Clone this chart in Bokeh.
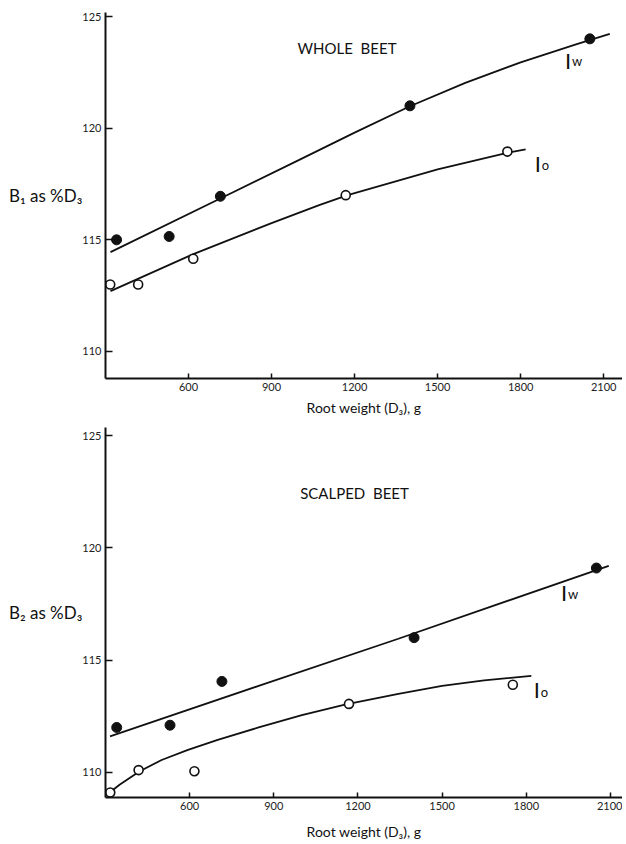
from bokeh.plotting import figure
from bokeh.layouts import column
from bokeh.models import FixedTicker, Range1d
from bokeh.core.properties import value
from bokeh.embed import file_html
from bokeh.resources import INLINE

# ---- data ----
x_ticks = [600, 900, 1200, 1500, 1800, 2100]
y_ticks = [110, 115, 120, 125]

w_x = [340, 530, 715, 1400, 2050]          # filled (Iw) root weights
o_x = [317, 418, 617, 1168, 1752]          # open (Io) root weights

whole_w = [115.0, 115.15, 116.95, 121.0, 124.0]
whole_o = [113.0, 113.0, 114.15, 117.0, 118.95]
scalp_w = [112.0, 112.1, 114.05, 116.0, 119.1]
scalp_o = [109.1, 110.1, 110.05, 113.05, 113.9]

whole_fit_w_x = [318, 713, 1000, 1200, 1400, 1600, 1800, 2000, 2122]
whole_fit_w_y = [114.45, 116.84, 118.58, 119.8, 120.98, 122.03, 122.95, 123.75, 124.22]
whole_fit_o_x = [318, 615, 900, 1072, 1175, 1500, 1755, 1818]
whole_fit_o_y = [112.7, 114.35, 115.75, 116.55, 117.0, 118.15, 118.9, 119.05]
scalp_fit_w_x = [316, 846, 1344, 2094]
scalp_fit_w_y = [111.6, 113.85, 115.95, 119.2]
scalp_fit_o_x = [305, 350, 422, 500, 594, 700, 846, 1000, 1157, 1344, 1500, 1650, 1818]
scalp_fit_o_y = [109.0, 109.45, 110.05, 110.55, 111.0, 111.45, 112.0, 112.55, 113.03, 113.5, 113.85, 114.1, 114.3]

FONT = "Lato"


def panel(height, top_border, left_border, xr, yr, xlab_standoff, title, title_pos, ylabel, wy, oy,
          fwx, fwy, fox, foy, lab_w, lab_o):
    p = figure(width=622, height=height, x_range=Range1d(*xr), y_range=Range1d(*yr),
               output_backend="svg", toolbar_location=None,
               min_border_left=left_border, min_border_right=0, min_border_top=top_border,
               min_border_bottom=0)
    p.outline_line_color = None
    p.grid.visible = False
    p.background_fill_color = "white"
    p.border_fill_color = "white"
    p.xaxis.ticker = FixedTicker(ticks=x_ticks)
    p.yaxis.ticker = FixedTicker(ticks=y_ticks)
    for ax in (p.xaxis, p.yaxis):
        ax.axis_line_width = 2
        ax.axis_line_color = "#111"
        ax.major_tick_line_width = 1.5
        ax.major_tick_line_color = "#111"
        ax.major_tick_out = 0
        ax.minor_tick_line_color = None
        ax.major_label_text_font = FONT
        ax.major_label_text_font_size = "11px"
        ax.major_label_text_color = "#222"
        ax.axis_label_text_font = FONT
        ax.axis_label_text_font_style = "normal"
        ax.axis_label_text_color = "#111"
    p.xaxis.major_tick_in = 5
    p.yaxis.major_tick_in = 7
    p.xaxis.major_label_standoff = 4
    p.yaxis.major_label_standoff = 4
    p.xaxis.axis_label = "Root weight (D\u2083), g"
    p.xaxis.axis_label_text_font_size = "14px"
    p.xaxis.axis_label_standoff = xlab_standoff
    p.yaxis.axis_label = ylabel
    p.yaxis.axis_label_orientation = "horizontal"
    p.yaxis.axis_label_text_font_size = "17px"
    p.yaxis.axis_label_standoff = -3

    p.line(fwx, fwy, line_color="#111", line_width=1.8)
    p.line(fox, foy, line_color="#111", line_width=1.8)
    p.scatter(w_x, wy, size=10, marker="circle", fill_color="#111", line_color="#111")
    p.scatter(o_x, oy, size=9, marker="circle", fill_color="white", line_color="#111", line_width=1.6)

    p.text(x=[title_pos[0]], y=[title_pos[1]], text=[title], text_font=value(FONT),
           text_font_size=value("15px"), text_baseline="middle", text_align="left", text_color="#111")
    # I_w and I_o labels
    p.text(x=[lab_w[0], lab_o[0]], y=[lab_w[1], lab_o[1]], text=["I", "I"], text_font=value(FONT),
           text_font_size=value("22px"), text_baseline="alphabetic", text_align="left", text_color="#111")
    p.text(x=[lab_w[0]], y=[lab_w[1]], text=["w"], x_offset=7, y_offset=1, text_font=value(FONT),
           text_font_size=value("13px"), text_baseline="alphabetic", text_align="left", text_color="#111")
    p.text(x=[lab_o[0]], y=[lab_o[1]], text=["o"], x_offset=7, y_offset=2, text_font=value(FONT),
           text_font_size=value("13px"), text_baseline="alphabetic", text_align="left", text_color="#111")
    return p


p1 = panel(418, 12, 103, (300, 2168), (108.79, 125.18), 5, "WHOLE\u00a0\u00a0BEET", (994, 123.57),
           "B\u2081 as %D\u2083",
           whole_w, whole_o, whole_fit_w_x, whole_fit_w_y, whole_fit_o_x, whole_fit_o_y,
           (1960, 123.05), (1851, 118.43))
p2 = panel(424, 9, 105, (300, 2143), (108.88, 125.36), 10, "SCALPED\u00a0\u00a0BEET", (994, 122.45),
           "B\u2082 as %D\u2083",
           scalp_w, scalp_o, scalp_fit_w_x, scalp_fit_w_y, scalp_fit_o_x, scalp_fit_o_y,
           (1924, 118.0), (1827, 113.68))

layout = column(p1, p2, spacing=0)
open("out.html", "w").write(file_html(layout, INLINE))
